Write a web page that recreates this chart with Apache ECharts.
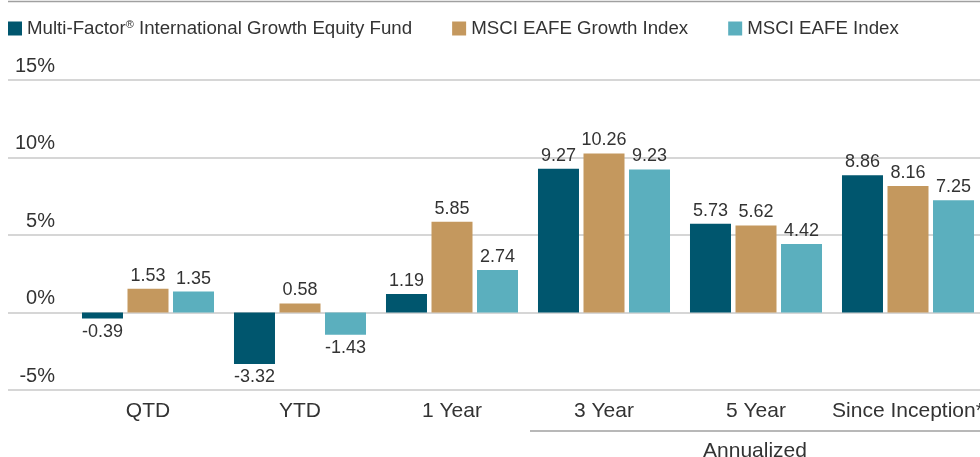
<!DOCTYPE html>
<html>
<head>
<meta charset="utf-8">
<script src="https://cdn.jsdelivr.net/npm/echarts@6/dist/echarts.min.js"></script>
<style>
  html, body { margin: 0; padding: 0; background: #fff; }
  #chart { width: 980px; height: 457px; }
</style>
</head>
<body>
<div id="chart"></div>
<script>
var categories = ["QTD", "YTD", "1 Year", "3 Year", "5 Year", "Since Inception*"];
var seriesNames = ["Multi-Factor\u00ae International Growth Equity Fund", "MSCI EAFE Growth Index", "MSCI EAFE Index"];
var fundValues = [-0.39, -3.32, 1.19, 9.27, 5.73, 8.86];
var growthValues = [1.53, 0.58, 5.85, 10.26, 5.62, 8.16];
var indexValues = [1.35, -1.43, 2.74, 9.23, 4.42, 7.25];
var yTicks = [-5, 0, 5, 10, 15];

var colors = ["#00566e", "#c4985e", "#5bafbe"];
var font = "'Liberation Sans', Arial, sans-serif";
var axisFs = 21;

function makeData(arr) {
  return arr.map(function (v) {
    return { value: v, label: { position: v < 0 ? "bottom" : "top" } };
  });
}

function barSeries(name, arr) {
  return {
    name: name,
    type: "bar",
    xAxisIndex: 0,
    yAxisIndex: 0,
    barWidth: 41,
    barGap: "11%",
    data: makeData(arr),
    label: {
      show: true,
      distance: 4,
      fontSize: 18,
      fontFamily: font,
      color: "#333",
      formatter: function (p) { return p.value.toFixed(2); }
    }
  };
}

var chart = echarts.init(document.getElementById("chart"));
var option = {
  animation: false,
  color: colors,
  legend: {
    top: 19,
    left: 8,
    padding: 0,
    icon: "rect",
    itemWidth: 14,
    itemHeight: 14,
    itemGap: 40,
    data: seriesNames,
    formatter: function (name) {
      // superscript the registered mark like the original
      return name.replace("\u00ae", "{sup|\u00ae}");
    },
    textStyle: {
      fontSize: 18.7,
      fontFamily: font,
      color: "#333",
      rich: {
        sup: { fontSize: 11, fontFamily: font, color: "#333", verticalAlign: "top", padding: [0, 0, 8, 0] }
      }
    }
  },
  grid: [
    { left: 72, right: -4, top: 80, bottom: 67, outerBoundsMode: "none" },
    { left: 8, right: 0, top: 80, bottom: 67, outerBoundsMode: "none" }
  ],
  xAxis: [
    {
      type: "category",
      gridIndex: 0,
      data: categories,
      axisLine: { show: false },
      axisTick: { show: false },
      axisLabel: { interval: 0, fontSize: axisFs, fontFamily: font, color: "#333", margin: 11 }
    },
    { type: "category", gridIndex: 1, show: false, data: categories }
  ],
  yAxis: [
    {
      type: "value",
      gridIndex: 0,
      min: yTicks[0],
      max: yTicks[yTicks.length - 1],
      interval: 5,
      splitLine: { show: false },
      axisLine: { show: false },
      axisTick: { show: false },
      axisLabel: {
        fontSize: 20,
        fontFamily: font,
        color: "#333",
        margin: 17,
        verticalAlign: "bottom",
        padding: [0, 0, 4, 0],
        formatter: "{value}%"
      }
    },
    {
      type: "value",
      gridIndex: 1,
      min: yTicks[0],
      max: yTicks[yTicks.length - 1],
      interval: 5,
      axisLabel: { show: false },
      axisLine: { show: false },
      axisTick: { show: false },
      splitLine: { show: true, lineStyle: { color: "#c8c8c8", width: 1.5 } }
    }
  ],
  graphic: [
    { type: "line", shape: { x1: 8, y1: 1.5, x2: 980, y2: 1.5 }, style: { stroke: "#a0a0a0", lineWidth: 1.5 } },
    { type: "line", shape: { x1: 530, y1: 431, x2: 980, y2: 431 }, style: { stroke: "#a0a0a0", lineWidth: 1.5 } },
    { type: "text", x: 755, y: 451, style: { text: "Annualized", fontSize: axisFs, fontFamily: font, fill: "#333", align: "center", verticalAlign: "middle" } }
  ],
  series: [
    barSeries(seriesNames[0], fundValues),
    barSeries(seriesNames[1], growthValues),
    barSeries(seriesNames[2], indexValues)
  ]
};
chart.setOption(option);
</script>
</body>
</html>
